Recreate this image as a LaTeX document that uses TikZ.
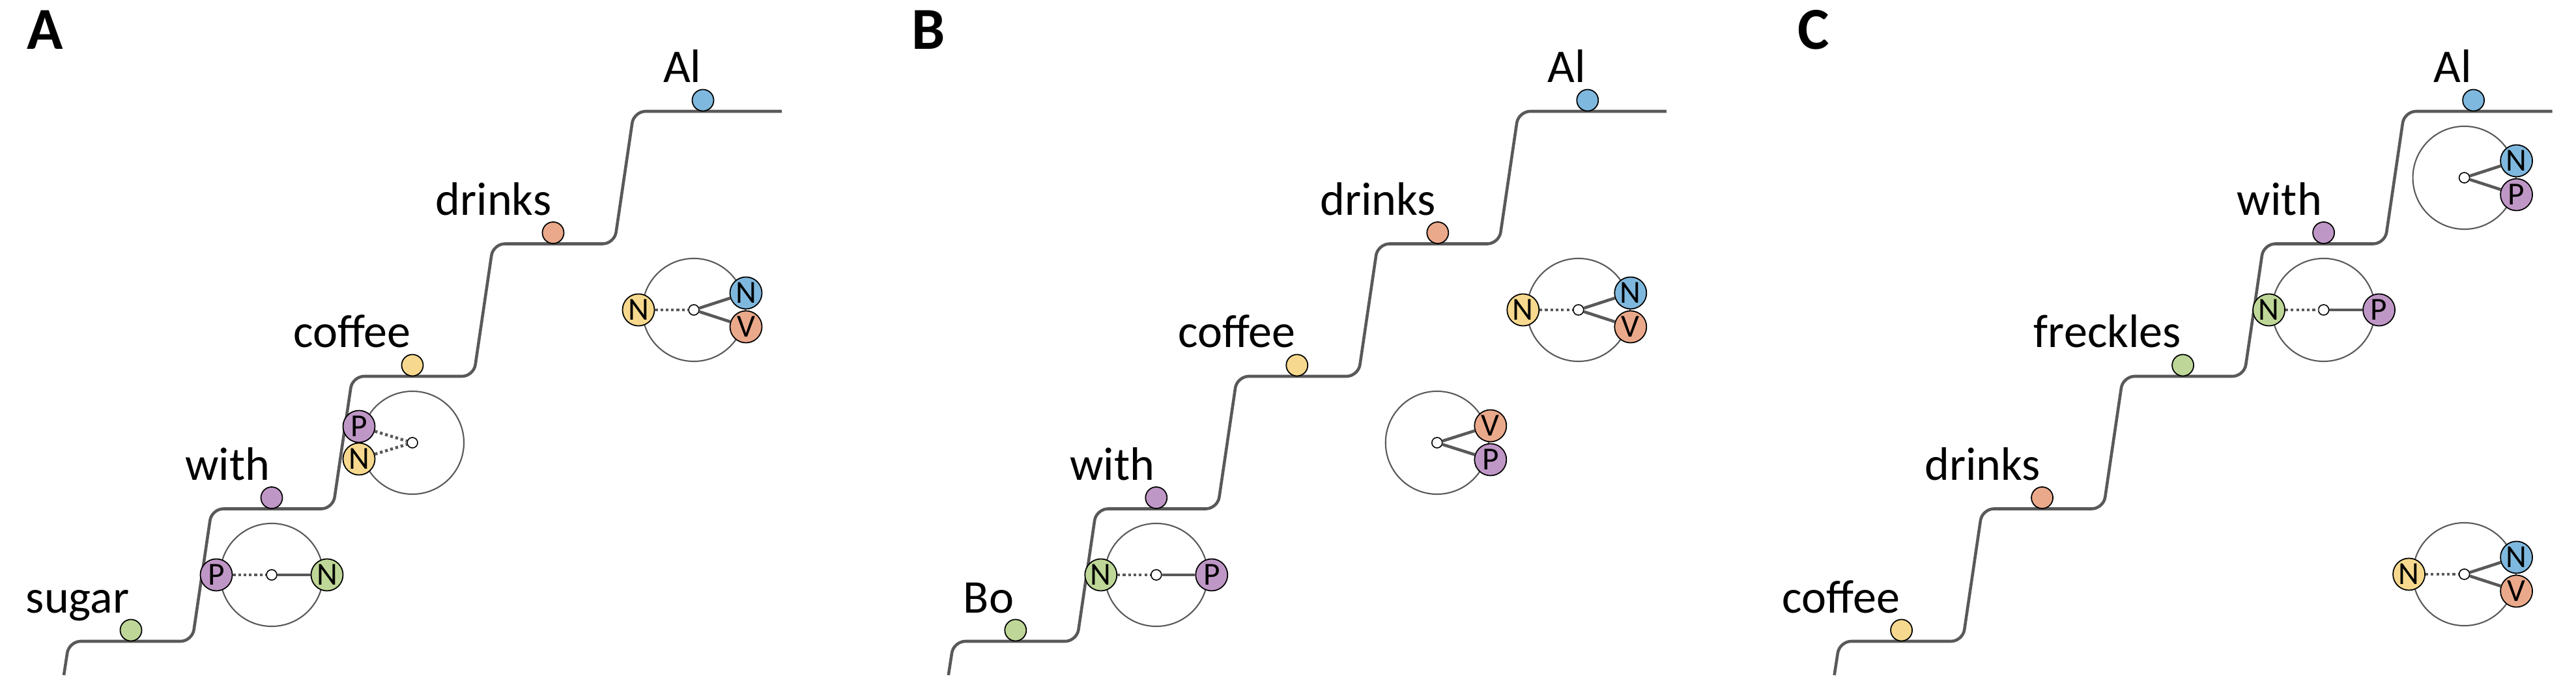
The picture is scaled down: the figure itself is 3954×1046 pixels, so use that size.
\documentclass[tikz,border=0pt]{standalone}
\usepackage{fontspec}
\setmainfont{Carlito}

\definecolor{wgreen}{RGB}{190,215,152}
\definecolor{wpurple}{RGB}{191,151,198}
\definecolor{wyellow}{RGB}{246,217,142}
\definecolor{worange}{RGB}{235,169,139}
\definecolor{wblue}{RGB}{127,184,222}
\definecolor{lgray}{RGB}{89,89,89}

\tikzset{
  word/.style={circle, draw=black, line width=0.5pt, inner sep=0pt, minimum size=0.33cm},
  wlabel/.style={anchor=base east, inner sep=0pt, font=\fontsize{20.5}{24}\selectfont},
  cat/.style={circle, draw=black, line width=0.5pt, inner sep=0pt, minimum size=0.49cm, font=\fontsize{14}{16}\selectfont},
  hub/.style={circle, draw=black, fill=white, line width=0.45pt, inner sep=0pt, minimum size=0.16cm},
  bubble/.style={circle, draw=lgray, line width=0.6pt, inner sep=0pt, minimum size=1.58cm},
  panel/.style={anchor=base west, inner sep=0pt, font=\fontsize{26}{30}\selectfont\bfseries},
  stairs/.pic={
    \draw[stair] (98,1037) -- (106,985) -- (295,985) -- (325,781.5) -- (511,781.5) -- (541,578)
      -- (727,578) -- (757,374.5) -- (943,374.5) -- (973,171) -- (1200,171);
  },
}

\begin{document}
\begin{tikzpicture}[
  x=0.01cm, y=-0.01cm,
  stair/.style={draw=lgray, line width=1.3pt, rounded corners=0.18cm},
  link/.style={draw=lgray, line width=1.3pt},
  weak/.style={link, dash pattern=on 1.2pt off 1.15pt}
]
  \useasboundingbox (0,0) rectangle (3954,1046);

  % panel A
  \node[panel] (aTag) at (41,76) {A};
  \pic at (0,0) {stairs};
  \node[word, fill=wgreen] (aSugar) at (201,968) {};
  \node[word, fill=wpurple] (aWith) at (417,764.5) {};
  \node[word, fill=wyellow] (aCoffee) at (633,561) {};
  \node[word, fill=worange] (aDrinks) at (849,357.5) {};
  \node[word, fill=wblue] (aAl) at (1079,154) {};
  \node[wlabel] (aSugarT) at ([shift={(-2,-27)}]aSugar.center) {sugar};
  \node[wlabel] (aWithT) at ([shift={(-2,-27)}]aWith.center) {with};
  \node[wlabel] (aCoffeeT) at ([shift={(-2,-27)}]aCoffee.center) {coffee};
  \node[wlabel] (aDrinksT) at ([shift={(-2,-27)}]aDrinks.center) {drinks};
  \node[wlabel] (aAlT) at ([shift={(-2,-27)}]aAl.center) {Al};

  \node[bubble] (aPN) at (417,883) {};
  \node[hub] (aPNh) at (aPN.center) {};
  \node[cat, fill=wpurple] (aPNp) at (332,883) {P};
  \node[cat, fill=wgreen] (aPNn) at (502,883) {N};
  \draw[weak] (aPNp) -- (aPNh);
  \draw[link] (aPNh) -- (aPNn);

  \node[bubble] (aPP) at (633,680) {};
  \node[hub] (aPPh) at (aPP.center) {};
  \node[cat, fill=wpurple] (aPPp) at (551,655) {P};
  \node[cat, fill=wyellow] (aPPn) at (551,705) {N};
  \draw[weak] (aPPp) -- (aPPh);
  \draw[weak] (aPPn) -- (aPPh);

  \node[bubble] (aS) at (1065,476) {};
  \node[hub] (aSh) at (aS.center) {};
  \node[cat, fill=wyellow] (aSn) at (980,476) {N};
  \node[cat, fill=wblue] (aSs) at (1145,450) {N};
  \node[cat, fill=worange] (aSv) at (1145,502) {V};
  \draw[weak] (aSn) -- (aSh);
  \draw[link] (aSh) -- (aSs);
  \draw[link] (aSh) -- (aSv);

  % panel B
  \begin{scope}[xshift=13.57cm]
  \node[panel] (bTag) at (41,76) {B};
  \pic at (0,0) {stairs};
  \node[word, fill=wgreen] (bBo) at (201,968) {};
  \node[word, fill=wpurple] (bWith) at (417,764.5) {};
  \node[word, fill=wyellow] (bCoffee) at (633,561) {};
  \node[word, fill=worange] (bDrinks) at (849,357.5) {};
  \node[word, fill=wblue] (bAl) at (1079,154) {};
  \node[wlabel] (bBoT) at ([shift={(-2,-27)}]bBo.center) {Bo};
  \node[wlabel] (bWithT) at ([shift={(-2,-27)}]bWith.center) {with};
  \node[wlabel] (bCoffeeT) at ([shift={(-2,-27)}]bCoffee.center) {coffee};
  \node[wlabel] (bDrinksT) at ([shift={(-2,-27)}]bDrinks.center) {drinks};
  \node[wlabel] (bAlT) at ([shift={(-2,-27)}]bAl.center) {Al};

  \node[bubble] (bNP) at (417,883) {};
  \node[hub] (bNPh) at (bNP.center) {};
  \node[cat, fill=wgreen] (bNPn) at (332,883) {N};
  \node[cat, fill=wpurple] (bNPp) at (502,883) {P};
  \draw[weak] (bNPn) -- (bNPh);
  \draw[link] (bNPh) -- (bNPp);

  \node[bubble] (bVP) at (848,680) {};
  \node[hub] (bVPh) at (bVP.center) {};
  \node[cat, fill=worange] (bVPv) at (930,654) {V};
  \node[cat, fill=wpurple] (bVPp) at (930,706) {P};
  \draw[link] (bVPh) -- (bVPv);
  \draw[link] (bVPh) -- (bVPp);

  \node[bubble] (bS) at (1065,476) {};
  \node[hub] (bSh) at (bS.center) {};
  \node[cat, fill=wyellow] (bSn) at (980,476) {N};
  \node[cat, fill=wblue] (bSs) at (1145,450) {N};
  \node[cat, fill=worange] (bSv) at (1145,502) {V};
  \draw[weak] (bSn) -- (bSh);
  \draw[link] (bSh) -- (bSs);
  \draw[link] (bSh) -- (bSv);
  \end{scope}

  % panel C
  \begin{scope}[xshift=27.16cm]
  \node[panel] (cTag) at (41,76) {C};
  \pic at (0,0) {stairs};
  \node[word, fill=wyellow] (cCoffee) at (201,968) {};
  \node[word, fill=worange] (cDrinks) at (417,764.5) {};
  \node[word, fill=wgreen] (cFreckles) at (633,561) {};
  \node[word, fill=wpurple] (cWith) at (849,357.5) {};
  \node[word, fill=wblue] (cAl) at (1079,154) {};
  \node[wlabel] (cCoffeeT) at ([shift={(-2,-27)}]cCoffee.center) {coffee};
  \node[wlabel] (cDrinksT) at ([shift={(-2,-27)}]cDrinks.center) {drinks};
  \node[wlabel] (cFrecklesT) at ([shift={(-2,-27)}]cFreckles.center) {freckles};
  \node[wlabel] (cWithT) at ([shift={(-2,-27)}]cWith.center) {with};
  \node[wlabel] (cAlT) at ([shift={(-2,-27)}]cAl.center) {Al};

  \node[bubble] (cNP) at (1065,273) {};
  \node[hub] (cNPh) at (cNP.center) {};
  \node[cat, fill=wblue] (cNPn) at (1145,247) {N};
  \node[cat, fill=wpurple] (cNPp) at (1145,299) {P};
  \draw[link] (cNPh) -- (cNPn);
  \draw[link] (cNPh) -- (cNPp);

  \node[bubble] (cFP) at (849,476) {};
  \node[hub] (cFPh) at (cFP.center) {};
  \node[cat, fill=wgreen] (cFPn) at (765,476) {N};
  \node[cat, fill=wpurple] (cFPp) at (934,476) {P};
  \draw[weak] (cFPn) -- (cFPh);
  \draw[link] (cFPh) -- (cFPp);

  \node[bubble] (cS) at (1065,882) {};
  \node[hub] (cSh) at (cS.center) {};
  \node[cat, fill=wyellow] (cSn) at (980,882) {N};
  \node[cat, fill=wblue] (cSs) at (1145,856) {N};
  \node[cat, fill=worange] (cSv) at (1145,908) {V};
  \draw[weak] (cSn) -- (cSh);
  \draw[link] (cSh) -- (cSs);
  \draw[link] (cSh) -- (cSv);
  \end{scope}
\end{tikzpicture}
\end{document}
